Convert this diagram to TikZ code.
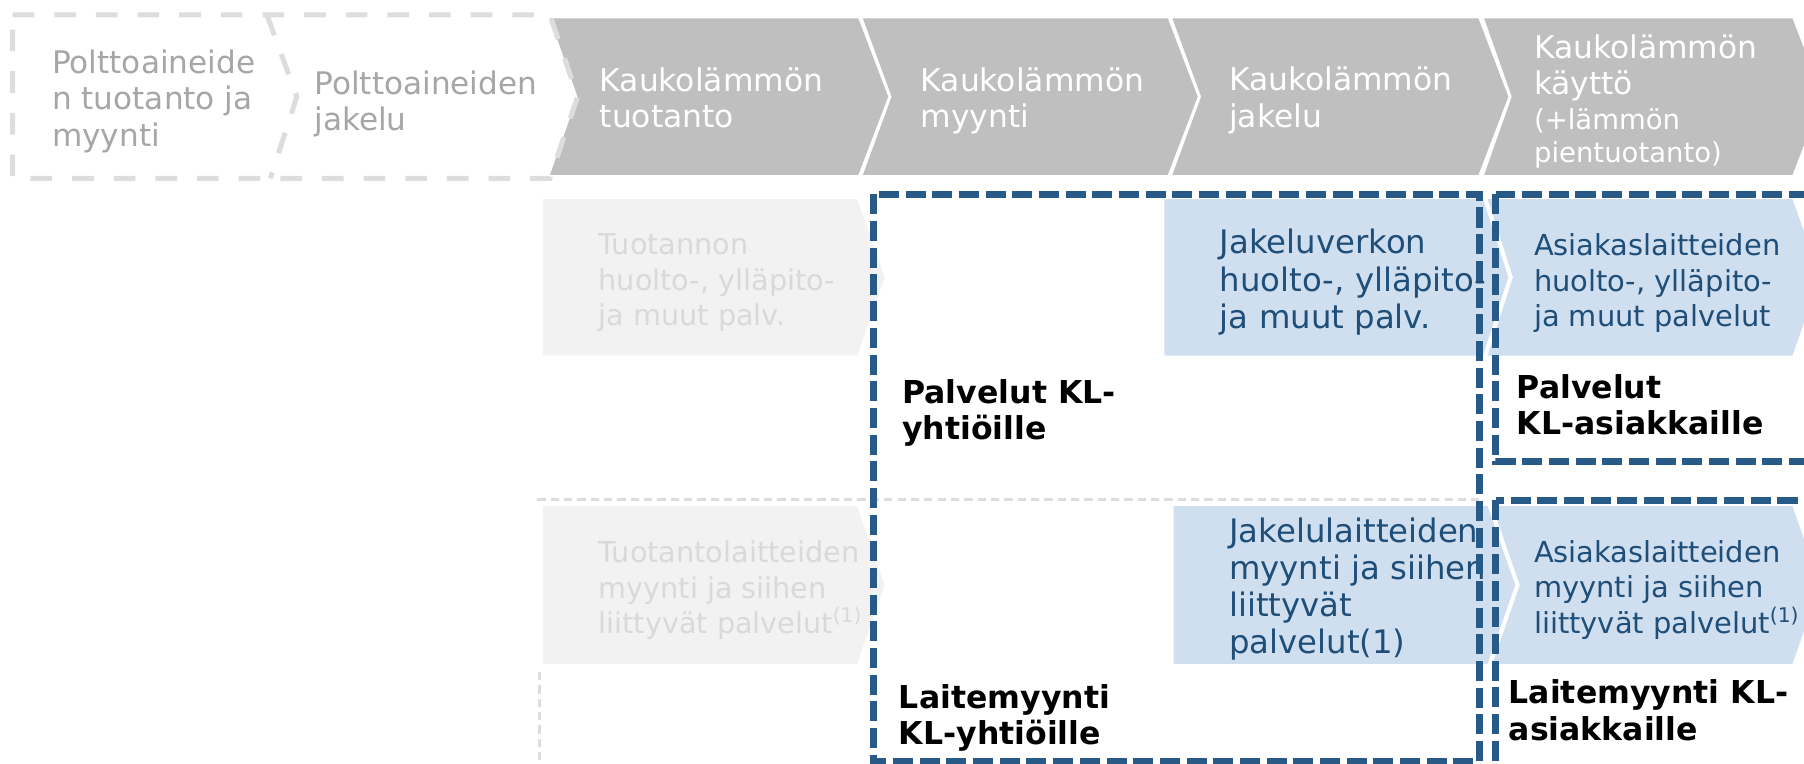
\documentclass[tikz,border=0pt]{standalone}
\usepackage{fontspec}
\setmainfont{DejaVu Sans}
\definecolor{klgray}{HTML}{BFBFBF}
\definecolor{faintfill}{HTML}{F2F2F2}
\definecolor{fainttext}{HTML}{D9D9D9}
\definecolor{fuelgray}{HTML}{A6A6A6}
\definecolor{dashgray}{HTML}{DDDDDD}
\definecolor{klblue}{HTML}{275A87}
\definecolor{lightblue}{HTML}{CFDFEF}
\definecolor{bluetext}{HTML}{1F4E79}
\usepackage{tikz}

\begin{document}
\begin{tikzpicture}[
    x=0.02cm, y=-0.02cm,
    txt/.style={anchor=north west, inner sep=0pt, align=left},
    head/.style={txt, text=white, font=\fontsize{15.5}{18}\selectfont},
    fuel/.style={txt, text=fuelgray, font=\fontsize{15.4}{18}\selectfont},
    pale/.style={txt, text=fainttext, font=\fontsize{14.2}{17.4}\selectfont},
    svc/.style={txt, text=bluetext, font=\fontsize{14.3}{17.4}\selectfont},
    svcbig/.style={txt, text=bluetext, font=\fontsize{16}{18.4}\selectfont},
    grp/.style={txt, font=\fontsize{15.6}{17.9}\selectfont\bfseries},
    grpbox/.style={draw=klblue, line width=3.3pt, dash pattern=on 9.9pt off 3.3pt},
    fuelbox/.style={draw=dashgray, line width=2.5pt, dash pattern=on 10.7pt off 9.9pt},
    sepline/.style={draw=dashgray, line width=1.6pt, dash pattern=on 4.1pt off 2.5pt}
  ]
  \useasboundingbox (0,0) rectangle (1568,664);
  \newcommand\smallhead{\fontsize{13.6}{16.5}\selectfont}

  % value chain
  \fill[klgray] (478,16) -- (746,16) -- (772,84) -- (746,152) -- (478,152) -- (502,84) -- cycle;
  \fill[klgray] (750,16) -- (1015,16) -- (1041,84) -- (1015,152) -- (750,152) -- (775,84) -- cycle;
  \fill[klgray] (1019,16) -- (1285,16) -- (1311,84) -- (1285,152) -- (1019,152) -- (1044,84) -- cycle;
  \fill[klgray] (1290,16) -- (1558,16) -- (1584,84) -- (1558,152) -- (1290,152) -- (1314,84) -- cycle;
  \draw[fuelbox] (11,13) -- (478,13) -- (502,84) -- (478,155) -- (11,155) -- cycle;
  \draw[fuelbox] (232,13) -- (258,84) -- (235,155);

  \node[fuel] (fuelprod) at (45,43) {Polttoaineide\\n tuotanto ja\\myynti};
  \node[fuel] (fueldist) at (273,61) {Polttoaineiden\\jakelu};
  \node[head] (hprod) at (521,58.5) {Kaukolämmön\\tuotanto};
  \node[head] (hsale) at (800,58.5) {Kaukolämmön\\myynti};
  \node[head] (hdist) at (1068,58) {Kaukolämmön\\jakelu};
  \node[head] (huse)  at (1333,29.6)
    {Kaukolämmön\\käyttö\\[-0.8pt]\smallhead(+lämmön\\[-1.7pt]\smallhead pientuotanto)};

  % services and equipment
  \fill[faintfill] (472,173) -- (745,173) -- (769,241) -- (745,309) -- (472,309) -- cycle;
  \fill[lightblue] (1012,173) -- (1289,173) -- (1311,241) -- (1289,309) -- (1012,309) -- cycle;
  \fill[lightblue] (1293,173) -- (1558,173) -- (1582,241) -- (1558,309) -- (1293,309) -- (1315,241) -- cycle;
  \fill[faintfill] (472,440) -- (745,440) -- (769,508.5) -- (745,577) -- (472,577) -- cycle;
  \fill[lightblue] (1020,440) -- (1293,440) -- (1317,508.5) -- (1293,577) -- (1020,577) -- cycle;
  \fill[lightblue] (1297,440) -- (1558,440) -- (1582,508.5) -- (1558,577) -- (1297,577) -- (1321,508.5) -- cycle;

  \node[pale] (svcprod) at (520,203) {Tuotannon\\huolto-, ylläpito-\\ja muut palv.};
  \node[svcbig] (svcdist) at (1060,199) {Jakeluverkon\\huolto-, ylläpito-\\ja muut palv.};
  \node[svc] (svccust) at (1333,203) {Asiakaslaitteiden\\huolto-, ylläpito-\\ja muut palvelut};
  \node[pale] (eqprod) at (520,470)
    {Tuotantolaitteiden\\myynti ja siihen\\liittyvät palvelut\textsuperscript{(1)}};
  \node[svcbig] (eqdist) at (1068,449.5)
    {Jakelulaitteiden\\myynti ja siihen\\liittyvät\\palvelut(1)};
  \node[svc] (eqcust) at (1333,469.6)
    {Asiakaslaitteiden\\myynti ja siihen\\liittyvät palvelut\textsuperscript{(1)}};

  \draw[sepline] (467,434) -- (1288,434);
  \draw[sepline] (469,584) -- (469,670);

  % customer groups
  \draw[grpbox] (759,169) rectangle (1286,662);
  \draw[grpbox] (1300,169) rectangle (1610,401);
  \draw[grpbox] (1300,435) rectangle (1610,720);

  \node[grp] (lblsvcco)   at (784,329.6) {Palvelut KL-\\yhtiöille};
  \node[grp] (lblsvccust) at (1318,325) {Palvelut\\KL-asiakkaille};
  \node[grp] (lbleqco)    at (781,594.6) {Laitemyynti\\KL-yhtiöille};
  \node[grp] (lbleqcust)  at (1311,590.6) {Laitemyynti KL-\\asiakkaille};
\end{tikzpicture}
\end{document}
